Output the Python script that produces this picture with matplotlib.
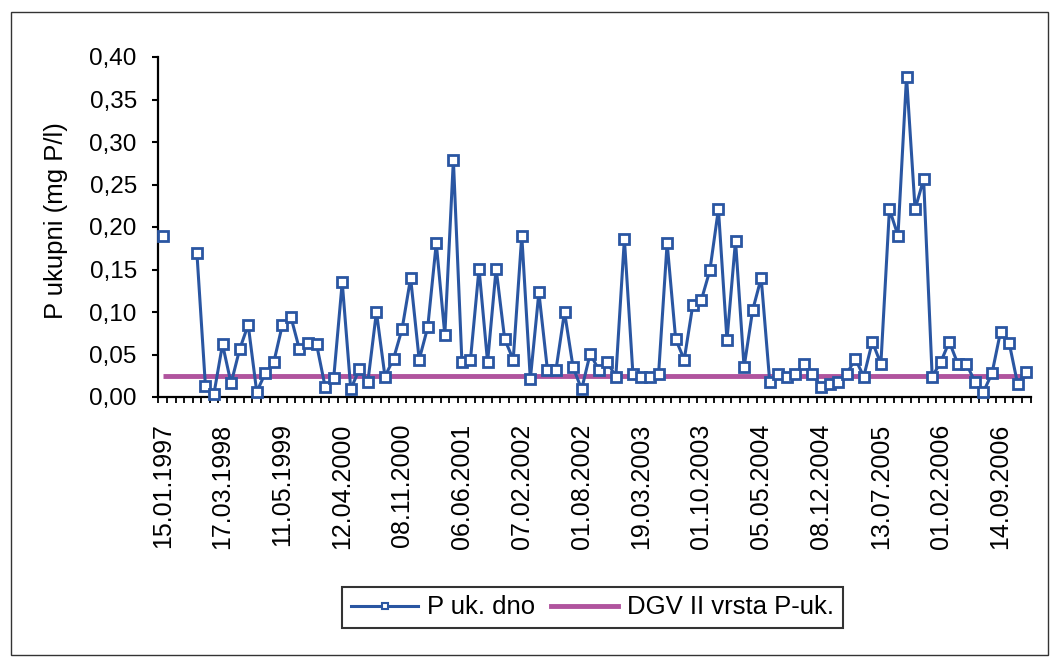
import numpy as np
import matplotlib
matplotlib.use("Agg")
import matplotlib.pyplot as plt
from matplotlib.lines import Line2D
from matplotlib.patches import Rectangle
from matplotlib.ticker import FuncFormatter, FixedLocator

plt.rcParams['font.family'] = ['Liberation Sans', 'DejaVu Sans']

# ---------------- data ----------------
tick_dates = ["15.01.1997", "17.03.1998", "11.05.1999", "12.04.2000", "08.11.2000",
              "06.06.2001", "07.02.2002", "01.08.2002", "19.03.2003", "01.10.2003",
              "05.05.2004", "08.12.2004", "13.07.2005", "01.02.2006", "14.09.2006"]
label_every = 7

p_uk_dno = [0.190, None, None, None, 0.170, 0.013, 0.004, 0.062, 0.016, 0.056,
            0.085, 0.006, 0.028, 0.041, 0.085, 0.094, 0.056, 0.064, 0.062, 0.012,
            0.022, 0.135, 0.009, 0.033, 0.018, 0.100, 0.024, 0.045, 0.080, 0.140,
            0.044, 0.082, 0.181, 0.073, 0.279, 0.041, 0.044, 0.151, 0.041, 0.151,
            0.068, 0.044, 0.190, 0.021, 0.123, 0.032, 0.032, 0.100, 0.035, 0.009,
            0.051, 0.032, 0.041, 0.024, 0.186, 0.027, 0.024, 0.024, 0.027, 0.181,
            0.068, 0.044, 0.108, 0.114, 0.149, 0.221, 0.067, 0.184, 0.035, 0.102,
            0.140, 0.018, 0.027, 0.024, 0.027, 0.039, 0.027, 0.012, 0.015, 0.018,
            0.027, 0.045, 0.024, 0.065, 0.039, 0.221, 0.190, 0.377, 0.221, 0.256,
            0.024, 0.041, 0.065, 0.039, 0.039, 0.018, 0.006, 0.028, 0.077, 0.064,
            0.015, 0.030]
dgv_limit = 0.025

series_names = ["P uk. dno", "DGV II vrsta P-uk."]
y_label = "P ukupni (mg P/l)"

# ---------------- plot ----------------
n = len(p_uk_dno)
x = np.arange(n)
y = np.array([np.nan if v is None else v for v in p_uk_dno], dtype=float)
dgv = np.full(n, dgv_limit)

blue = "#2A56A2"
magenta = "#B0549E"

W, H = 1059, 660
fig = plt.figure(figsize=(W / 100, H / 100), dpi=100)
ax = fig.add_axes([158.4 / W, 1 - 397 / H, (1030.5 - 158.4) / W, (397 - 57) / H])

ax.plot(x, dgv, color=magenta, lw=3.5, solid_capstyle='butt', zorder=2)
ax.plot(x, y, color=blue, lw=2.2, marker='s', markersize=6.6,
        markerfacecolor='white', markeredgecolor=blue, markeredgewidth=2.0,
        zorder=3, clip_on=False)

ax.set_xlim(-0.5, n - 0.5)
ax.set_ylim(0, 0.40)

for s in ['top', 'right']:
    ax.spines[s].set_visible(False)
for s in ['left', 'bottom']:
    ax.spines[s].set_linewidth(1.6)
    ax.spines[s].set_color('black')

ax.set_yticks(np.arange(0, 0.401, 0.05))
ax.yaxis.set_major_formatter(FuncFormatter(lambda v, p: f"{v:.2f}".replace('.', ',')))
ax.tick_params(axis='y', direction='out', length=4.5, width=1.5, pad=11,
               labelsize=17.5, colors='black')

label_pos = list(range(0, n, label_every))[:len(tick_dates)]
ax.xaxis.set_major_locator(FixedLocator(label_pos))
ax.set_xticklabels(tick_dates, rotation=90, fontsize=18)
ax.xaxis.set_minor_locator(FixedLocator(np.arange(-0.5, n, 1.0)))
ax.tick_params(axis='x', which='major', length=0, pad=19)
ax.tick_params(axis='x', which='minor', direction='out', length=4.5, width=1.3)

fig.text(56 / W, 1 - 220.5 / H, y_label, rotation=90, ha='center', va='center',
         fontsize=18.5)

handles = [
    Line2D([], [], color=blue, lw=2.2, marker='s', markersize=4,
           markerfacecolor='white', markeredgecolor=blue, markeredgewidth=1.5),
    Line2D([], [], color=magenta, lw=3.5),
]
leg = fig.legend(handles, series_names, loc='center', ncol=2,
                 bbox_to_anchor=(592.5 / W, 1 - 607.5 / H), fontsize=18.5,
                 frameon=True, fancybox=False, shadow=False, edgecolor='black',
                 handlelength=2.6, handletextpad=0.35, columnspacing=0.6,
                 borderpad=0.35, borderaxespad=0)
leg.get_frame().set_linewidth(1.5)

fig.patches.append(Rectangle((11 / W, 5 / H), (1048 - 11) / W, (648 - 5) / H,
                             transform=fig.transFigure, fill=False,
                             edgecolor='#333333', lw=1.0))

fig.savefig("out.png", dpi=100)
